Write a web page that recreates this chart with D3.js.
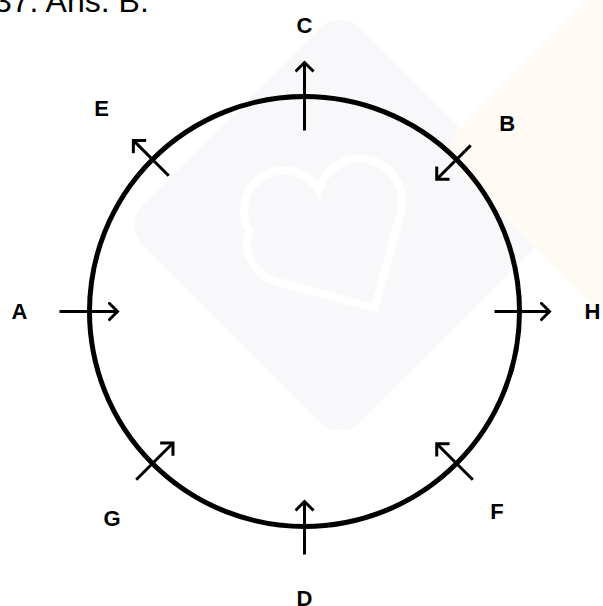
<!DOCTYPE html>
<html lang="en">
  <head>
    <meta charset="UTF-8" />
    <title>Direction circle</title>
    <script src="https://d3js.org/d3.v7.min.js"></script>
    <style>
      body { margin: 0; background: #fff; }
    </style>
  </head>
  <body></body>
  <script>
    // diagram readings
    var labels = ["C", "B", "H", "F", "D", "G", "A", "E"];
    var angles = [90, 45, 0, -45, -90, -135, 180, 135]; // position on the circle, degrees
    var dirs = ["out", "in", "out", "in", "in", "in", "in", "out"];
    var tailOff = [34, 20, 25, 23, 28, 23, 30, 23]; // distance of tail from the rim
    var tipOff = [34, 28, 30, 28, 25, 29, 28, 27]; // distance of tip from the rim
    var labelAngles = [90, 43, 0, -46, -90, -133, 180, 135];
    var labelDist = [286, 277, 288, 277, 287, 282, 285, 287];
    var caption = "37. Ans. B.";

    var W = 603, H = 606;
    var cx = 304.5, cy = 311.5, R = 215;

    var svg = d3.select("body").append("svg")
      .attr("width", W).attr("height", H);

    // faint watermark behind the drawing
    var wm = svg.append("g");
    wm.append("rect")
      .attr("x", -154).attr("y", -154).attr("width", 308).attr("height", 308)
      .attr("rx", 30)
      .attr("transform", "translate(340,225) rotate(45)")
      .attr("fill", "#f8f8fa");
    wm.append("path")
      .attr("d", "M-70,-40 a40,40 0 0,1 80,0 a40,40 0 0,1 60,60 l-70,70 l-70,-70 a40,40 0 0,1 0,-60z")
      .attr("transform", "translate(330,230) rotate(-30)")
      .attr("fill", "none").attr("stroke", "#fff").attr("stroke-width", 8);
    wm.append("rect")
      .attr("x", -150).attr("y", -150).attr("width", 300).attr("height", 300)
      .attr("rx", 30)
      .attr("transform", "translate(650,150) rotate(45)")
      .attr("fill", "#fffbf4");

    var ang = d3.scaleLinear().domain([0, 360]).range([0, 2 * Math.PI]);
    function pt(a, r) {
      var t = ang(a);
      return [cx + r * Math.cos(t), cy - r * Math.sin(t)];
    }

    svg.append("circle")
      .attr("cx", cx).attr("cy", cy).attr("r", R)
      .attr("fill", "none").attr("stroke", "#000").attr("stroke-width", 5);

    svg.append("defs").append("marker")
      .attr("id", "head")
      .attr("viewBox", "-10 -10 20 20")
      .attr("refX", 0).attr("refY", 0)
      .attr("markerWidth", 20).attr("markerHeight", 20)
      .attr("markerUnits", "userSpaceOnUse")
      .attr("orient", "auto")
      .append("path")
      .attr("d", "M-8,-8L0,0L-8,8")
      .attr("fill", "none").attr("stroke", "#000").attr("stroke-width", 3)
      .attr("stroke-linecap", "square");

    var arrows = labels.map(function (l, i) {
      var s = dirs[i] === "out" ? -1 : 1;
      return {
        from: pt(angles[i], R + s * tailOff[i]),
        to: pt(angles[i], R - s * tipOff[i])
      };
    });

    svg.append("g").selectAll("line").data(arrows).join("line")
      .attr("x1", d => d.from[0]).attr("y1", d => d.from[1])
      .attr("x2", d => d.to[0]).attr("y2", d => d.to[1])
      .attr("stroke", "#000").attr("stroke-width", 3)
      .attr("marker-end", "url(#head)");

    svg.append("g")
      .attr("font-family", "Liberation Sans, Arial, sans-serif")
      .attr("font-weight", "bold")
      .attr("font-size", 22)
      .attr("text-anchor", "middle")
      .selectAll("text").data(labels).join("text")
      .attr("x", (d, i) => pt(labelAngles[i], labelDist[i])[0])
      .attr("y", (d, i) => pt(labelAngles[i], labelDist[i])[1])
      .attr("dy", "0.36em")
      .text(d => d);

    svg.append("text")
      .attr("x", -6).attr("y", 12)
      .attr("font-family", "Liberation Sans, Arial, sans-serif")
      .attr("font-size", 32)
      .text(caption);
  </script>
</html>
